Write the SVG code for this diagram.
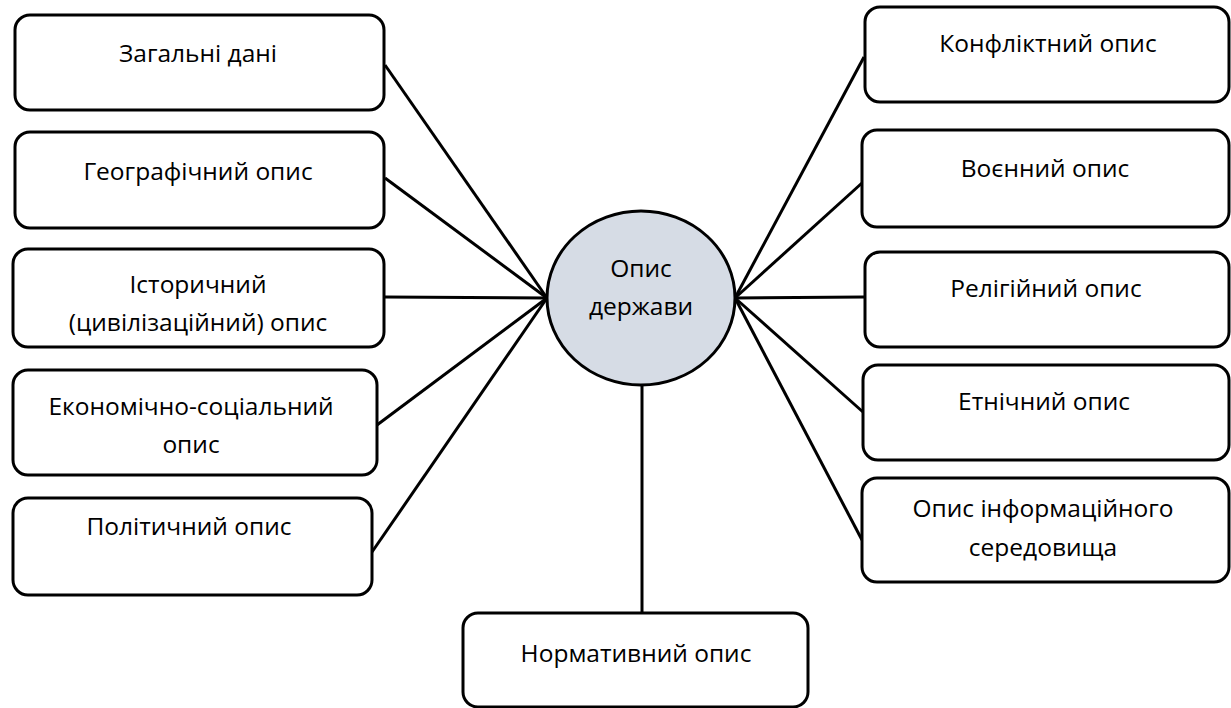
<svg xmlns="http://www.w3.org/2000/svg" width="1231" height="708" viewBox="0 0 1231 708">
<style>
.box{fill:#fff;stroke:#000;stroke-width:3}
.hub{fill:#d6dce5;stroke:#000;stroke-width:3}
.t{font-family:"Open Sans","Noto Sans","DejaVu Sans",sans-serif;font-size:24.5px;fill:#000;text-anchor:middle}
.c line{stroke:#000;stroke-width:3}
</style>
<rect width="1231" height="708" fill="#fff"/>
<g class="c" id="connectors">
<line x1="385" y1="65" x2="547" y2="298"/>
<line x1="385" y1="178" x2="547" y2="298"/>
<line x1="385" y1="297" x2="547" y2="298"/>
<line x1="377" y1="425" x2="547" y2="298"/>
<line x1="372" y1="552" x2="547" y2="298"/>
<line x1="864" y1="57" x2="735" y2="298"/>
<line x1="862" y1="183" x2="735" y2="298"/>
<line x1="864" y1="297" x2="735" y2="298"/>
<line x1="863" y1="412" x2="735" y2="298"/>
<line x1="862" y1="540" x2="735" y2="298"/>
<line x1="642" y1="385" x2="642" y2="613"/>
</g>
<g id="n-zagalni"><rect class="box" x="15" y="15" width="369" height="95" rx="15"/><text class="t" x="198" y="62">Загальні дані</text></g>
<g id="n-geo"><rect class="box" x="15" y="132" width="369" height="96" rx="15"/><text class="t" x="198" y="180">Географічний опис</text></g>
<g id="n-ist"><rect class="box" x="13" y="249" width="371" height="98" rx="15"/><text class="t" x="198" y="293">Історичний</text><text class="t" x="198" y="331">(цивілізаційний) опис</text></g>
<g id="n-ekon"><rect class="box" x="13" y="370" width="364" height="105" rx="15"/><text class="t" x="191" y="415">Економічно-соціальний</text><text class="t" x="191" y="453">опис</text></g>
<g id="n-polit"><rect class="box" x="13" y="498" width="359" height="97" rx="15"/><text class="t" x="189" y="535">Політичний опис</text></g>
<g id="n-konf"><rect class="box" x="865" y="7" width="364" height="95" rx="15"/><text class="t" x="1048" y="52">Конфліктний опис</text></g>
<g id="n-voen"><rect class="box" x="862" y="130" width="367" height="97" rx="15"/><text class="t" x="1045" y="177">Воєнний опис</text></g>
<g id="n-relig"><rect class="box" x="865" y="252" width="364" height="95" rx="15"/><text class="t" x="1046" y="297">Релігійний опис</text></g>
<g id="n-etn"><rect class="box" x="863" y="365" width="366" height="95" rx="15"/><text class="t" x="1044" y="410">Етнічний опис</text></g>
<g id="n-inform"><rect class="box" x="862" y="478" width="367" height="104" rx="15"/><text class="t" x="1043" y="517">Опис інформаційного</text><text class="t" x="1043" y="556">середовища</text></g>
<g id="n-norm"><rect class="box" x="463" y="613" width="345" height="94" rx="15"/><text class="t" x="636" y="662">Нормативний опис</text></g>
<g id="n-center"><ellipse class="hub" cx="641" cy="298" rx="94" ry="87"/><text class="t" x="641" y="277">Опис</text><text class="t" x="641" y="315">держави</text></g>
</svg>
